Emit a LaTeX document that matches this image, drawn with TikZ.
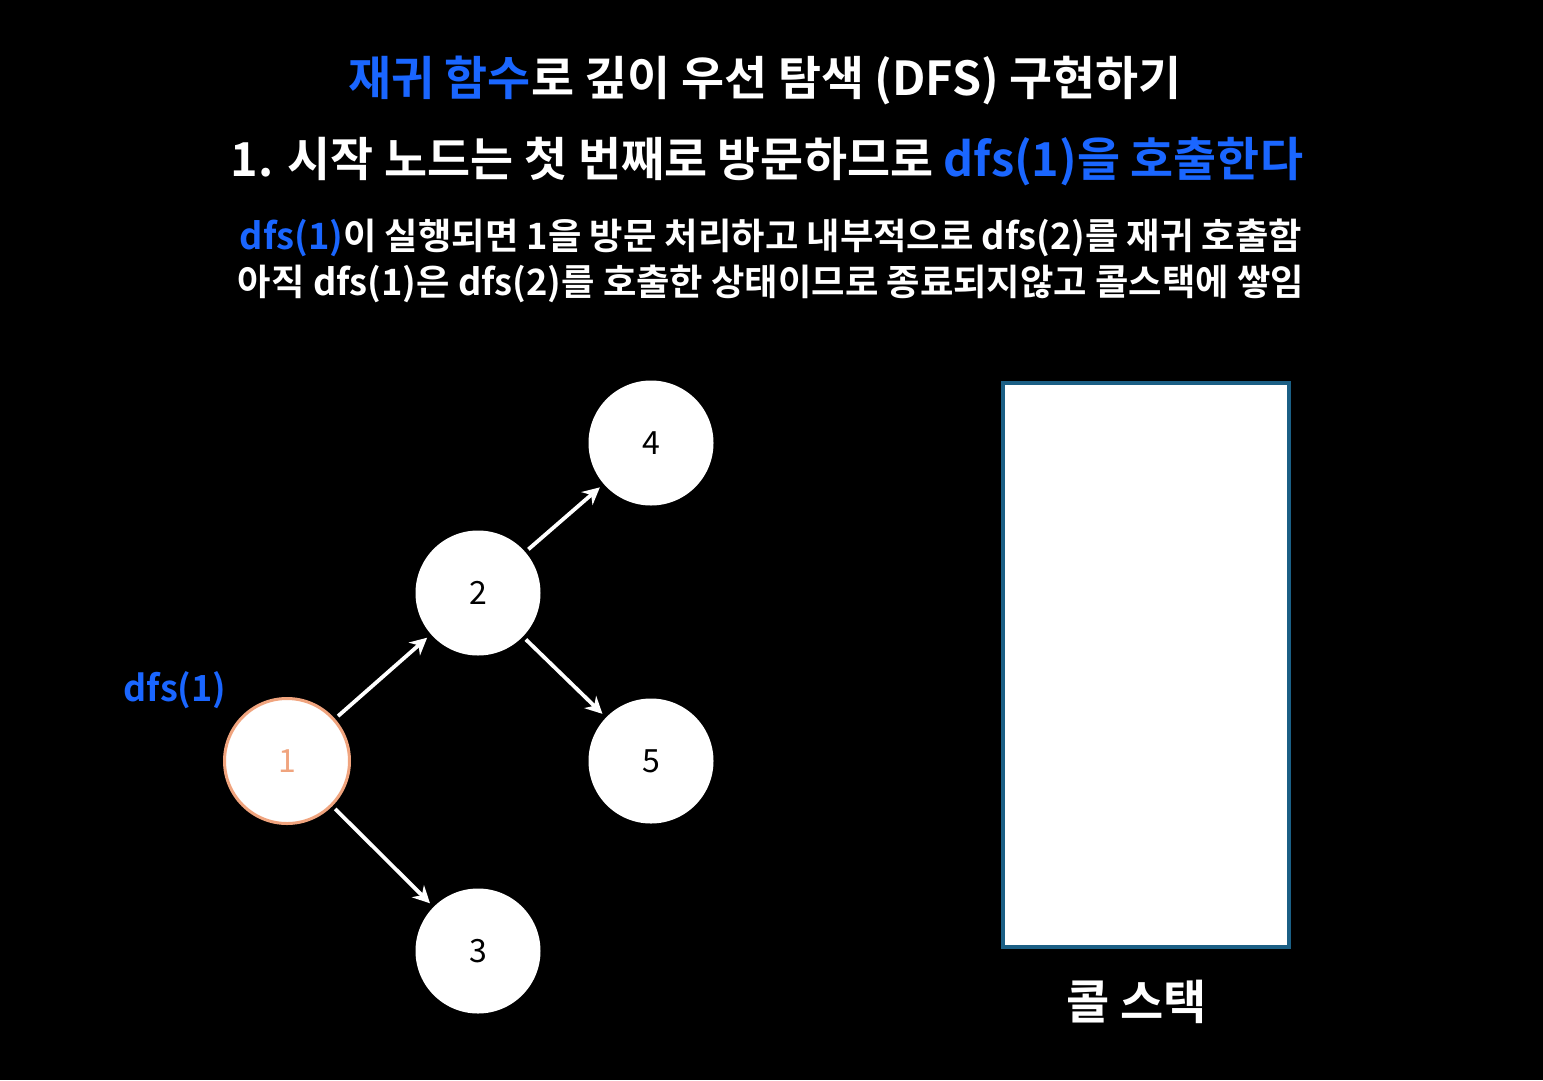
\documentclass[tikz,border=0pt]{standalone}
\usepackage{fontspec}
\setmainfont{Noto Sans CJK KR}[BoldFont={Noto Sans CJK KR Bold}]
\usetikzlibrary{arrows.meta}
\definecolor{hl}{HTML}{1A66FF}
\definecolor{peach}{HTML}{F0A47E}
\definecolor{stackedge}{HTML}{1B5F85}
\begin{document}
\begin{tikzpicture}[x=1pt,y=-1pt,
  graphnode/.style={circle,fill=white,minimum size=125pt,inner sep=0pt,font=\fontsize{32}{34}\selectfont},
  edge/.style={draw=white,line width=3.8pt,-{Stealth[length=17pt,width=17pt]},shorten >=5pt,shorten <=4pt},
  ttl/.style={text=white,font=\bfseries\fontsize{46.8}{52}\selectfont},
  sub/.style={text=white,font=\bfseries\fontsize{36.3}{40}\selectfont}]
\fill[black] (0,0) rectangle (1543,1080);
\useasboundingbox (0,0) rectangle (1543,1080);
\node[ttl] (t1) at (765,80) {\textcolor{hl}{재귀 함수}로 깊이 우선 탐색 (DFS) 구현하기};
\node[ttl] (t2) at (767,162) {1. 시작 노드는 첫 번째로 방문하므로 \textcolor{hl}{dfs(1)을 호출한다}};
\node[sub] (t3) at (771,238) {\textcolor{hl}{dfs(1)}이 실행되면 1을 방문 처리하고 내부적으로 dfs(2)를 재귀 호출함};
\node[sub] (t4) at (771,284) {아직 dfs(1)은 dfs(2)를 호출한 상태이므로 종료되지않고 콜스택에 쌓임};
\node[graphnode,draw=peach,line width=3pt,text=peach] (n1) at (287,761) {1};
\node[graphnode] (n2) at (478,593) {2};
\node[graphnode] (n3) at (478,951) {3};
\node[graphnode] (n4) at (651,443) {4};
\node[graphnode] (n5) at (651,761) {5};
\node[text=hl,font=\bfseries\fontsize{36}{40}\selectfont] (lab) at (175,690) {dfs(1)};
\draw[edge] (n1) -- (n2);
\draw[edge] (n2) -- (n4);
\draw[edge] (n2) -- (n5);
\draw[edge] (n1) -- (n3);
\node[draw=stackedge,fill=white,line width=4pt,minimum width=286pt,minimum height=564pt,inner sep=0pt] (stack) at (1146,665) {};
\node[text=white,font=\bfseries\fontsize{47}{50}\selectfont] (stlab) at (1137,1002) {콜 스택};
\end{tikzpicture}
\end{document}
